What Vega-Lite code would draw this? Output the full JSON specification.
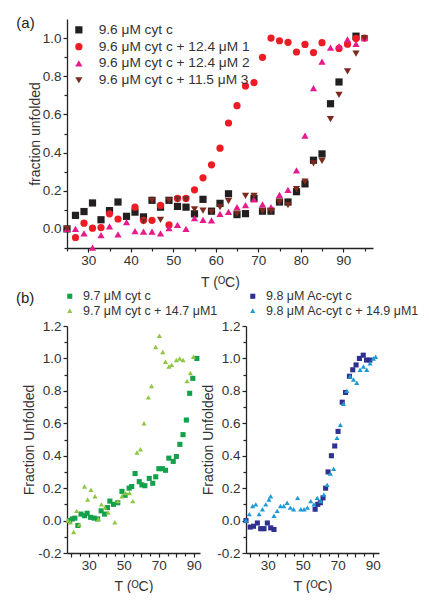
{
  "$schema": "https://vega.github.io/schema/vega-lite/v6.json",
  "padding": {"left": 16, "top": 16, "right": 0, "bottom": 0},
  "config": {
    "view": {"stroke": null},
    "font": "Liberation Sans",
    "axis": {
      "grid": false, "domainColor": "#222", "domainWidth": 1.3, "tickColor": "#222", "tickWidth": 1.2,
      "labelFont": "Liberation Sans", "labelFontSize": 13.5, "labelColor": "#333", "labelPadding": 2,
      "titleFont": "Liberation Sans", "titleFontSize": 14, "titleFontWeight": "normal", "titleColor": "#333", "titlePadding": 1
    },
    "legend": {"labelFont": "Liberation Sans", "labelColor": "#333", "padding": 0, "labelLimit": 400},
    "title": {"font": "Liberation Sans", "fontSize": 15, "fontWeight": "normal", "color": "#222"}
  },
  "datasets": {
    "top": [
      {"T":25,"f":0.0,"s":"9.6 μM cyt c"},{"T":27,"f":0.071,"s":"9.6 μM cyt c"},{"T":29,"f":0.091,"s":"9.6 μM cyt c"},{"T":31,"f":0.136,"s":"9.6 μM cyt c"},{"T":33,"f":0.048,"s":"9.6 μM cyt c"},{"T":35,"f":0.096,"s":"9.6 μM cyt c"},{"T":37,"f":0.141,"s":"9.6 μM cyt c"},{"T":39,"f":0.066,"s":"9.6 μM cyt c"},{"T":41,"f":0.088,"s":"9.6 μM cyt c"},{"T":43,"f":0.063,"s":"9.6 μM cyt c"},{"T":45,"f":0.15,"s":"9.6 μM cyt c"},{"T":47,"f":0.114,"s":"9.6 μM cyt c"},{"T":49,"f":0.15,"s":"9.6 μM cyt c"},{"T":51,"f":0.118,"s":"9.6 μM cyt c"},{"T":53,"f":0.114,"s":"9.6 μM cyt c"},{"T":55,"f":0.079,"s":"9.6 μM cyt c"},{"T":57,"f":0.155,"s":"9.6 μM cyt c"},{"T":59,"f":0.093,"s":"9.6 μM cyt c"},{"T":61,"f":0.134,"s":"9.6 μM cyt c"},{"T":63,"f":0.184,"s":"9.6 μM cyt c"},{"T":65,"f":0.075,"s":"9.6 μM cyt c"},{"T":67,"f":0.08,"s":"9.6 μM cyt c"},{"T":69,"f":0.16,"s":"9.6 μM cyt c"},{"T":71,"f":0.093,"s":"9.6 μM cyt c"},{"T":73,"f":0.093,"s":"9.6 μM cyt c"},{"T":75,"f":0.141,"s":"9.6 μM cyt c"},{"T":77,"f":0.141,"s":"9.6 μM cyt c"},{"T":79,"f":0.195,"s":"9.6 μM cyt c"},{"T":81,"f":0.236,"s":"9.6 μM cyt c"},{"T":83,"f":0.36,"s":"9.6 μM cyt c"},{"T":85,"f":0.393,"s":"9.6 μM cyt c"},{"T":87,"f":0.656,"s":"9.6 μM cyt c"},{"T":89,"f":0.77,"s":"9.6 μM cyt c"},{"T":93,"f":1.01,"s":"9.6 μM cyt c"},
      {"T":27,"f":-0.045,"s":"9.6 μM cyt c + 12.4 μM 1"},{"T":29,"f":0.03,"s":"9.6 μM cyt c + 12.4 μM 1"},{"T":31,"f":0.004,"s":"9.6 μM cyt c + 12.4 μM 1"},{"T":33,"f":0.007,"s":"9.6 μM cyt c + 12.4 μM 1"},{"T":35,"f":0.079,"s":"9.6 μM cyt c + 12.4 μM 1"},{"T":37,"f":0.052,"s":"9.6 μM cyt c + 12.4 μM 1"},{"T":41,"f":0.114,"s":"9.6 μM cyt c + 12.4 μM 1"},{"T":43,"f":0.045,"s":"9.6 μM cyt c + 12.4 μM 1"},{"T":45,"f":0.045,"s":"9.6 μM cyt c + 12.4 μM 1"},{"T":47,"f":0.123,"s":"9.6 μM cyt c + 12.4 μM 1"},{"T":49,"f":0.021,"s":"9.6 μM cyt c + 12.4 μM 1"},{"T":51,"f":0.16,"s":"9.6 μM cyt c + 12.4 μM 1"},{"T":53,"f":0.16,"s":"9.6 μM cyt c + 12.4 μM 1"},{"T":55,"f":0.205,"s":"9.6 μM cyt c + 12.4 μM 1"},{"T":57,"f":0.268,"s":"9.6 μM cyt c + 12.4 μM 1"},{"T":59,"f":0.336,"s":"9.6 μM cyt c + 12.4 μM 1"},{"T":61,"f":0.423,"s":"9.6 μM cyt c + 12.4 μM 1"},{"T":63,"f":0.555,"s":"9.6 μM cyt c + 12.4 μM 1"},{"T":65,"f":0.646,"s":"9.6 μM cyt c + 12.4 μM 1"},{"T":67,"f":0.749,"s":"9.6 μM cyt c + 12.4 μM 1"},{"T":69,"f":0.767,"s":"9.6 μM cyt c + 12.4 μM 1"},{"T":71,"f":0.899,"s":"9.6 μM cyt c + 12.4 μM 1"},{"T":73,"f":1.0,"s":"9.6 μM cyt c + 12.4 μM 1"},{"T":75,"f":0.986,"s":"9.6 μM cyt c + 12.4 μM 1"},{"T":77,"f":0.978,"s":"9.6 μM cyt c + 12.4 μM 1"},{"T":79,"f":0.927,"s":"9.6 μM cyt c + 12.4 μM 1"},{"T":81,"f":0.967,"s":"9.6 μM cyt c + 12.4 μM 1"},{"T":83,"f":0.924,"s":"9.6 μM cyt c + 12.4 μM 1"},{"T":85,"f":0.976,"s":"9.6 μM cyt c + 12.4 μM 1"},{"T":89,"f":0.946,"s":"9.6 μM cyt c + 12.4 μM 1"},{"T":91,"f":0.968,"s":"9.6 μM cyt c + 12.4 μM 1"},{"T":93,"f":0.998,"s":"9.6 μM cyt c + 12.4 μM 1"},{"T":95,"f":1.0,"s":"9.6 μM cyt c + 12.4 μM 1"},
      {"T":25,"f":0.0,"s":"9.6 μM cyt c + 12.4 μM 2"},{"T":27,"f":0.0,"s":"9.6 μM cyt c + 12.4 μM 2"},{"T":29,"f":-0.023,"s":"9.6 μM cyt c + 12.4 μM 2"},{"T":31,"f":-0.098,"s":"9.6 μM cyt c + 12.4 μM 2"},{"T":33,"f":-0.032,"s":"9.6 μM cyt c + 12.4 μM 2"},{"T":35,"f":0.013,"s":"9.6 μM cyt c + 12.4 μM 2"},{"T":37,"f":-0.029,"s":"9.6 μM cyt c + 12.4 μM 2"},{"T":39,"f":0.036,"s":"9.6 μM cyt c + 12.4 μM 2"},{"T":41,"f":-0.011,"s":"9.6 μM cyt c + 12.4 μM 2"},{"T":43,"f":-0.014,"s":"9.6 μM cyt c + 12.4 μM 2"},{"T":45,"f":-0.014,"s":"9.6 μM cyt c + 12.4 μM 2"},{"T":47,"f":-0.023,"s":"9.6 μM cyt c + 12.4 μM 2"},{"T":49,"f":0.004,"s":"9.6 μM cyt c + 12.4 μM 2"},{"T":51,"f":0.021,"s":"9.6 μM cyt c + 12.4 μM 2"},{"T":53,"f":0.0,"s":"9.6 μM cyt c + 12.4 μM 2"},{"T":55,"f":0.057,"s":"9.6 μM cyt c + 12.4 μM 2"},{"T":57,"f":0.048,"s":"9.6 μM cyt c + 12.4 μM 2"},{"T":59,"f":0.045,"s":"9.6 μM cyt c + 12.4 μM 2"},{"T":61,"f":0.079,"s":"9.6 μM cyt c + 12.4 μM 2"},{"T":63,"f":0.089,"s":"9.6 μM cyt c + 12.4 μM 2"},{"T":65,"f":0.114,"s":"9.6 μM cyt c + 12.4 μM 2"},{"T":67,"f":0.125,"s":"9.6 μM cyt c + 12.4 μM 2"},{"T":69,"f":0.155,"s":"9.6 μM cyt c + 12.4 μM 2"},{"T":71,"f":0.129,"s":"9.6 μM cyt c + 12.4 μM 2"},{"T":73,"f":0.114,"s":"9.6 μM cyt c + 12.4 μM 2"},{"T":75,"f":0.179,"s":"9.6 μM cyt c + 12.4 μM 2"},{"T":77,"f":0.204,"s":"9.6 μM cyt c + 12.4 μM 2"},{"T":79,"f":0.307,"s":"9.6 μM cyt c + 12.4 μM 2"},{"T":81,"f":0.489,"s":"9.6 μM cyt c + 12.4 μM 2"},{"T":83,"f":0.738,"s":"9.6 μM cyt c + 12.4 μM 2"},{"T":85,"f":0.876,"s":"9.6 μM cyt c + 12.4 μM 2"},{"T":87,"f":0.95,"s":"9.6 μM cyt c + 12.4 μM 2"},{"T":89,"f":0.958,"s":"9.6 μM cyt c + 12.4 μM 2"},{"T":91,"f":0.993,"s":"9.6 μM cyt c + 12.4 μM 2"},{"T":93,"f":0.97,"s":"9.6 μM cyt c + 12.4 μM 2"},{"T":95,"f":1.0,"s":"9.6 μM cyt c + 12.4 μM 2"},
      {"T":25,"f":0.0,"s":"9.6 μM cyt c + 11.5 μM 3"},{"T":43,"f":0.039,"s":"9.6 μM cyt c + 11.5 μM 3"},{"T":45,"f":0.15,"s":"9.6 μM cyt c + 11.5 μM 3"},{"T":47,"f":0.048,"s":"9.6 μM cyt c + 11.5 μM 3"},{"T":49,"f":0.15,"s":"9.6 μM cyt c + 11.5 μM 3"},{"T":51,"f":0.155,"s":"9.6 μM cyt c + 11.5 μM 3"},{"T":53,"f":0.155,"s":"9.6 μM cyt c + 11.5 μM 3"},{"T":55,"f":0.102,"s":"9.6 μM cyt c + 11.5 μM 3"},{"T":57,"f":0.096,"s":"9.6 μM cyt c + 11.5 μM 3"},{"T":59,"f":0.089,"s":"9.6 μM cyt c + 11.5 μM 3"},{"T":61,"f":0.114,"s":"9.6 μM cyt c + 11.5 μM 3"},{"T":63,"f":0.146,"s":"9.6 μM cyt c + 11.5 μM 3"},{"T":65,"f":0.08,"s":"9.6 μM cyt c + 11.5 μM 3"},{"T":67,"f":0.173,"s":"9.6 μM cyt c + 11.5 μM 3"},{"T":69,"f":0.173,"s":"9.6 μM cyt c + 11.5 μM 3"},{"T":71,"f":0.093,"s":"9.6 μM cyt c + 11.5 μM 3"},{"T":73,"f":0.093,"s":"9.6 μM cyt c + 11.5 μM 3"},{"T":75,"f":0.141,"s":"9.6 μM cyt c + 11.5 μM 3"},{"T":77,"f":0.125,"s":"9.6 μM cyt c + 11.5 μM 3"},{"T":79,"f":0.209,"s":"9.6 μM cyt c + 11.5 μM 3"},{"T":81,"f":0.248,"s":"9.6 μM cyt c + 11.5 μM 3"},{"T":83,"f":0.343,"s":"9.6 μM cyt c + 11.5 μM 3"},{"T":85,"f":0.357,"s":"9.6 μM cyt c + 11.5 μM 3"},{"T":87,"f":0.575,"s":"9.6 μM cyt c + 11.5 μM 3"},{"T":89,"f":0.703,"s":"9.6 μM cyt c + 11.5 μM 3"},{"T":91,"f":0.826,"s":"9.6 μM cyt c + 11.5 μM 3"},{"T":93,"f":0.919,"s":"9.6 μM cyt c + 11.5 μM 3"},{"T":95,"f":1.0,"s":"9.6 μM cyt c + 11.5 μM 3"}
    ],
    "bl": [
      {"T":19,"f":0.0,"s":"9.7 μM cyt c"},{"T":20.5,"f":0.01,"s":"9.7 μM cyt c"},{"T":22,"f":0.015,"s":"9.7 μM cyt c"},{"T":23.7,"f":-0.03,"s":"9.7 μM cyt c"},{"T":25.5,"f":0.04,"s":"9.7 μM cyt c"},{"T":27.5,"f":0.03,"s":"9.7 μM cyt c"},{"T":29,"f":0.045,"s":"9.7 μM cyt c"},{"T":31,"f":0.02,"s":"9.7 μM cyt c"},{"T":33,"f":0.015,"s":"9.7 μM cyt c"},{"T":35,"f":0.01,"s":"9.7 μM cyt c"},{"T":37,"f":0.06,"s":"9.7 μM cyt c"},{"T":39,"f":0.04,"s":"9.7 μM cyt c"},{"T":40.6,"f":0.08,"s":"9.7 μM cyt c"},{"T":42,"f":0.12,"s":"9.7 μM cyt c"},{"T":44,"f":0.1,"s":"9.7 μM cyt c"},{"T":46.5,"f":0.11,"s":"9.7 μM cyt c"},{"T":48.9,"f":0.18,"s":"9.7 μM cyt c"},{"T":50.7,"f":0.156,"s":"9.7 μM cyt c"},{"T":53,"f":0.2,"s":"9.7 μM cyt c"},{"T":54.5,"f":0.21,"s":"9.7 μM cyt c"},{"T":56.4,"f":0.29,"s":"9.7 μM cyt c"},{"T":58.8,"f":0.24,"s":"9.7 μM cyt c"},{"T":60.3,"f":0.22,"s":"9.7 μM cyt c"},{"T":62,"f":0.215,"s":"9.7 μM cyt c"},{"T":64.5,"f":0.26,"s":"9.7 μM cyt c"},{"T":66.5,"f":0.23,"s":"9.7 μM cyt c"},{"T":68.2,"f":0.27,"s":"9.7 μM cyt c"},{"T":70,"f":0.32,"s":"9.7 μM cyt c"},{"T":72,"f":0.32,"s":"9.7 μM cyt c"},{"T":73.8,"f":0.31,"s":"9.7 μM cyt c"},{"T":75.7,"f":0.385,"s":"9.7 μM cyt c"},{"T":78.2,"f":0.365,"s":"9.7 μM cyt c"},{"T":80,"f":0.395,"s":"9.7 μM cyt c"},{"T":82,"f":0.47,"s":"9.7 μM cyt c"},{"T":83.8,"f":0.53,"s":"9.7 μM cyt c"},{"T":85.7,"f":0.62,"s":"9.7 μM cyt c"},{"T":87.6,"f":0.785,"s":"9.7 μM cyt c"},{"T":89.4,"f":0.877,"s":"9.7 μM cyt c"},{"T":91.7,"f":1.0,"s":"9.7 μM cyt c"},
      {"T":18,"f":0.0,"s":"9.7 μM cyt c + 14.7 μM1"},{"T":19.4,"f":-0.01,"s":"9.7 μM cyt c + 14.7 μM1"},{"T":21.3,"f":-0.07,"s":"9.7 μM cyt c + 14.7 μM1"},{"T":23,"f":0.06,"s":"9.7 μM cyt c + 14.7 μM1"},{"T":24.5,"f":-0.025,"s":"9.7 μM cyt c + 14.7 μM1"},{"T":27.5,"f":0.21,"s":"9.7 μM cyt c + 14.7 μM1"},{"T":29.3,"f":0.13,"s":"9.7 μM cyt c + 14.7 μM1"},{"T":31.2,"f":0.19,"s":"9.7 μM cyt c + 14.7 μM1"},{"T":33.5,"f":0.15,"s":"9.7 μM cyt c + 14.7 μM1"},{"T":35.4,"f":0.01,"s":"9.7 μM cyt c + 14.7 μM1"},{"T":37.2,"f":0.1,"s":"9.7 μM cyt c + 14.7 μM1"},{"T":39.1,"f":0.08,"s":"9.7 μM cyt c + 14.7 μM1"},{"T":41,"f":0.05,"s":"9.7 μM cyt c + 14.7 μM1"},{"T":44.8,"f":-0.01,"s":"9.7 μM cyt c + 14.7 μM1"},{"T":46.6,"f":0.12,"s":"9.7 μM cyt c + 14.7 μM1"},{"T":48.9,"f":0.15,"s":"9.7 μM cyt c + 14.7 μM1"},{"T":50.7,"f":0.17,"s":"9.7 μM cyt c + 14.7 μM1"},{"T":53.2,"f":0.17,"s":"9.7 μM cyt c + 14.7 μM1"},{"T":55.1,"f":0.12,"s":"9.7 μM cyt c + 14.7 μM1"},{"T":57.5,"f":0.42,"s":"9.7 μM cyt c + 14.7 μM1"},{"T":59.5,"f":0.44,"s":"9.7 μM cyt c + 14.7 μM1"},{"T":61.5,"f":0.6,"s":"9.7 μM cyt c + 14.7 μM1"},{"T":64,"f":0.76,"s":"9.7 μM cyt c + 14.7 μM1"},{"T":65.8,"f":0.83,"s":"9.7 μM cyt c + 14.7 μM1"},{"T":68.2,"f":1.07,"s":"9.7 μM cyt c + 14.7 μM1"},{"T":70.3,"f":1.14,"s":"9.7 μM cyt c + 14.7 μM1"},{"T":72.2,"f":1.04,"s":"9.7 μM cyt c + 14.7 μM1"},{"T":73.8,"f":0.98,"s":"9.7 μM cyt c + 14.7 μM1"},{"T":75.7,"f":0.95,"s":"9.7 μM cyt c + 14.7 μM1"},{"T":77.3,"f":0.96,"s":"9.7 μM cyt c + 14.7 μM1"},{"T":80,"f":0.99,"s":"9.7 μM cyt c + 14.7 μM1"},{"T":81.9,"f":1.0,"s":"9.7 μM cyt c + 14.7 μM1"},{"T":83.8,"f":0.99,"s":"9.7 μM cyt c + 14.7 μM1"},{"T":86.1,"f":0.86,"s":"9.7 μM cyt c + 14.7 μM1"},{"T":88,"f":0.91,"s":"9.7 μM cyt c + 14.7 μM1"},{"T":89.8,"f":1.01,"s":"9.7 μM cyt c + 14.7 μM1"}
    ],
    "br": [
      {"T":17.5,"f":0.0,"s":"9.8 μM Ac-cyt c"},{"T":19.9,"f":-0.04,"s":"9.8 μM Ac-cyt c"},{"T":21.8,"f":-0.035,"s":"9.8 μM Ac-cyt c"},{"T":24,"f":-0.015,"s":"9.8 μM Ac-cyt c"},{"T":25.9,"f":-0.05,"s":"9.8 μM Ac-cyt c"},{"T":27.8,"f":-0.05,"s":"9.8 μM Ac-cyt c"},{"T":29.7,"f":-0.015,"s":"9.8 μM Ac-cyt c"},{"T":31.6,"f":-0.045,"s":"9.8 μM Ac-cyt c"},{"T":33.5,"f":-0.055,"s":"9.8 μM Ac-cyt c"},{"T":57,"f":0.07,"s":"9.8 μM Ac-cyt c"},{"T":58.5,"f":0.1,"s":"9.8 μM Ac-cyt c"},{"T":60,"f":0.11,"s":"9.8 μM Ac-cyt c"},{"T":61.5,"f":0.14,"s":"9.8 μM Ac-cyt c"},{"T":63,"f":0.2,"s":"9.8 μM Ac-cyt c"},{"T":64.4,"f":0.3,"s":"9.8 μM Ac-cyt c"},{"T":66.3,"f":0.4,"s":"9.8 μM Ac-cyt c"},{"T":68.2,"f":0.46,"s":"9.8 μM Ac-cyt c"},{"T":70.1,"f":0.55,"s":"9.8 μM Ac-cyt c"},{"T":72.5,"f":0.73,"s":"9.8 μM Ac-cyt c"},{"T":74.4,"f":0.79,"s":"9.8 μM Ac-cyt c"},{"T":76.6,"f":0.89,"s":"9.8 μM Ac-cyt c"},{"T":78.5,"f":0.93,"s":"9.8 μM Ac-cyt c"},{"T":80.4,"f":0.96,"s":"9.8 μM Ac-cyt c"},{"T":82.3,"f":1.0,"s":"9.8 μM Ac-cyt c"},{"T":84.5,"f":1.02,"s":"9.8 μM Ac-cyt c"},{"T":86.4,"f":0.99,"s":"9.8 μM Ac-cyt c"},{"T":88.3,"f":0.99,"s":"9.8 μM Ac-cyt c"},
      {"T":17.5,"f":0.0,"s":"9.8 μM Ac-cyt c + 14.9 μM1"},{"T":19.4,"f":0.04,"s":"9.8 μM Ac-cyt c + 14.9 μM1"},{"T":21.3,"f":0.09,"s":"9.8 μM Ac-cyt c + 14.9 μM1"},{"T":23.1,"f":0.1,"s":"9.8 μM Ac-cyt c + 14.9 μM1"},{"T":25,"f":0.04,"s":"9.8 μM Ac-cyt c + 14.9 μM1"},{"T":26.9,"f":0.07,"s":"9.8 μM Ac-cyt c + 14.9 μM1"},{"T":28.8,"f":0.1,"s":"9.8 μM Ac-cyt c + 14.9 μM1"},{"T":30.6,"f":0.13,"s":"9.8 μM Ac-cyt c + 14.9 μM1"},{"T":31.6,"f":0.15,"s":"9.8 μM Ac-cyt c + 14.9 μM1"},{"T":33.5,"f":0.03,"s":"9.8 μM Ac-cyt c + 14.9 μM1"},{"T":35.3,"f":0.06,"s":"9.8 μM Ac-cyt c + 14.9 μM1"},{"T":37.2,"f":0.09,"s":"9.8 μM Ac-cyt c + 14.9 μM1"},{"T":39.1,"f":0.09,"s":"9.8 μM Ac-cyt c + 14.9 μM1"},{"T":41,"f":0.11,"s":"9.8 μM Ac-cyt c + 14.9 μM1"},{"T":42.8,"f":0.08,"s":"9.8 μM Ac-cyt c + 14.9 μM1"},{"T":44.7,"f":0.07,"s":"9.8 μM Ac-cyt c + 14.9 μM1"},{"T":47,"f":0.14,"s":"9.8 μM Ac-cyt c + 14.9 μM1"},{"T":48.8,"f":0.07,"s":"9.8 μM Ac-cyt c + 14.9 μM1"},{"T":50.7,"f":0.07,"s":"9.8 μM Ac-cyt c + 14.9 μM1"},{"T":52.6,"f":0.08,"s":"9.8 μM Ac-cyt c + 14.9 μM1"},{"T":54.5,"f":0.12,"s":"9.8 μM Ac-cyt c + 14.9 μM1"},{"T":56.3,"f":0.1,"s":"9.8 μM Ac-cyt c + 14.9 μM1"},{"T":58.2,"f":0.14,"s":"9.8 μM Ac-cyt c + 14.9 μM1"},{"T":60.1,"f":0.12,"s":"9.8 μM Ac-cyt c + 14.9 μM1"},{"T":62,"f":0.16,"s":"9.8 μM Ac-cyt c + 14.9 μM1"},{"T":63.9,"f":0.22,"s":"9.8 μM Ac-cyt c + 14.9 μM1"},{"T":65.7,"f":0.29,"s":"9.8 μM Ac-cyt c + 14.9 μM1"},{"T":67.6,"f":0.32,"s":"9.8 μM Ac-cyt c + 14.9 μM1"},{"T":69.5,"f":0.51,"s":"9.8 μM Ac-cyt c + 14.9 μM1"},{"T":71.4,"f":0.59,"s":"9.8 μM Ac-cyt c + 14.9 μM1"},{"T":73.2,"f":0.72,"s":"9.8 μM Ac-cyt c + 14.9 μM1"},{"T":75.1,"f":0.8,"s":"9.8 μM Ac-cyt c + 14.9 μM1"},{"T":77,"f":0.89,"s":"9.8 μM Ac-cyt c + 14.9 μM1"},{"T":78.9,"f":0.87,"s":"9.8 μM Ac-cyt c + 14.9 μM1"},{"T":80.8,"f":0.85,"s":"9.8 μM Ac-cyt c + 14.9 μM1"},{"T":82.7,"f":0.93,"s":"9.8 μM Ac-cyt c + 14.9 μM1"},{"T":84.6,"f":0.95,"s":"9.8 μM Ac-cyt c + 14.9 μM1"},{"T":86.5,"f":0.93,"s":"9.8 μM Ac-cyt c + 14.9 μM1"},{"T":88.4,"f":0.97,"s":"9.8 μM Ac-cyt c + 14.9 μM1"},{"T":90.3,"f":1.0,"s":"9.8 μM Ac-cyt c + 14.9 μM1"},{"T":91.6,"f":1.01,"s":"9.8 μM Ac-cyt c + 14.9 μM1"}
    ]
  },
  "resolve": {"scale": {"color": "independent", "shape": "independent"}, "legend": {"color": "independent", "shape": "independent"}},
  "bounds": "flush",
  "spacing": 78,
  "vconcat": [
    {
      "title": {"text": "(a)", "anchor": "start", "frame": "group", "offset": -24, "dx": -50.7, "dy": -12},
      "width": 306, "height": 229,
      "data": {"name": "top"},
      "mark": {"type": "point", "filled": true, "opacity": 1, "size": 52},
      "encoding": {
        "x": {"field": "T", "type": "quantitative", "scale": {"domain": [25, 97], "nice": false, "zero": false},
          "axis": {"title": "T (ᴼC)", "labelPadding": 1, "titlePadding": 9, "values": [25,30,35,40,45,50,55,60,65,70,75,80,85,90,95], "labelExpr": "datum.value % 10 === 0 ? datum.label : ''", "tickSize": {"condition": {"test": "datum.value % 10 === 0", "value": 4}, "value": 3}}},
        "y": {"field": "f", "type": "quantitative", "scale": {"domain": [-0.1, 1.1], "nice": false, "zero": false},
          "axis": {"title": "fraction unfolded", "titlePadding": 0, "values": [-0.1,0,0.1,0.2,0.3,0.4,0.5,0.6,0.7,0.8,0.9,1.0], "labelExpr": "abs(round(datum.value*10)) % 2 === 0 ? format(datum.value, '.1f') : ''", "tickSize": {"condition": {"test": "abs(round(datum.value*10)) % 2 === 0", "value": 4}, "value": 3}}},
        "color": {"field": "s", "type": "nominal",
          "scale": {"domain": ["9.6 μM cyt c", "9.6 μM cyt c + 12.4 μM 1", "9.6 μM cyt c + 12.4 μM 2", "9.6 μM cyt c + 11.5 μM 3"], "range": ["#231f20", "#ed1c24", "#e8198b", "#7b2a1f"]},
          "legend": {"title": null, "orient": "none", "legendX": 5, "legendY": 4, "labelFontSize": 13.7, "symbolSize": 52, "labelOffset": 13, "rowPadding": 1.8, "symbolStrokeWidth": 0}},
        "shape": {"field": "s", "type": "nominal",
          "scale": {"domain": ["9.6 μM cyt c", "9.6 μM cyt c + 12.4 μM 1", "9.6 μM cyt c + 12.4 μM 2", "9.6 μM cyt c + 11.5 μM 3"], "range": ["square", "circle", "triangle-up", "triangle-down"]}}
      }
    },
    {
      "title": {"text": "(b)", "anchor": "start", "frame": "group", "offset": -16, "dx": -51},
      "bounds": "flush",
      "spacing": 46,
      "resolve": {"scale": {"color": "independent", "shape": "independent", "x": "independent", "y": "independent"}, "legend": {"color": "independent", "shape": "independent"}},
      "hconcat": [
        {
          "width": 133, "height": 227,
          "data": {"name": "bl"},
          "mark": {"type": "point", "filled": true, "opacity": 1, "size": 26},
          "encoding": {
            "x": {"field": "T", "type": "quantitative", "scale": {"domain": [17.5, 93.5], "nice": false, "zero": false},
              "axis": {"title": "T (ᴼC)", "labelPadding": 1.5, "titlePadding": 7, "values": [20,25,30,35,40,45,50,55,60,65,70,75,80,85,90], "labelExpr": "datum.value % 20 === 10 ? datum.label : ''", "tickSize": {"condition": {"test": "datum.value % 10 === 0", "value": 4}, "value": 3}}},
            "y": {"field": "f", "type": "quantitative", "scale": {"domain": [-0.2, 1.2], "nice": false, "zero": false},
              "axis": {"title": "Fraction Unfolded", "values": [-0.2,-0.1,0,0.1,0.2,0.3,0.4,0.5,0.6,0.7,0.8,0.9,1.0,1.1,1.2], "labelExpr": "abs(round(datum.value*10)) % 2 === 0 ? (datum.value < 0 ? '-' + format(-datum.value, '.1f') : format(datum.value, '.1f')) : ''", "tickSize": {"condition": {"test": "abs(round(datum.value*10)) % 2 === 0", "value": 4}, "value": 3}}},
            "color": {"field": "s", "type": "nominal",
              "scale": {"domain": ["9.7 μM cyt c", "9.7 μM cyt c + 14.7 μM1"], "range": ["#12a14b", "#8dc63f"]},
              "legend": {"title": null, "orient": "none", "legendX": -3.5, "legendY": -36, "labelFontSize": 12.5, "symbolSize": 26, "labelOffset": 7, "rowPadding": 1.5, "symbolStrokeWidth": 0}},
            "shape": {"field": "s", "type": "nominal",
              "scale": {"domain": ["9.7 μM cyt c", "9.7 μM cyt c + 14.7 μM1"], "range": ["square", "triangle-up"]}}
          }
        },
        {
          "width": 133, "height": 227,
          "data": {"name": "br"},
          "mark": {"type": "point", "filled": true, "opacity": 1, "size": 26},
          "encoding": {
            "x": {"field": "T", "type": "quantitative", "scale": {"domain": [17.5, 93.5], "nice": false, "zero": false},
              "axis": {"title": "T (ᴼC)", "labelPadding": 1.5, "titlePadding": 7, "values": [20,25,30,35,40,45,50,55,60,65,70,75,80,85,90], "labelExpr": "datum.value % 20 === 10 ? datum.label : ''", "tickSize": {"condition": {"test": "datum.value % 10 === 0", "value": 4}, "value": 3}}},
            "y": {"field": "f", "type": "quantitative", "scale": {"domain": [-0.2, 1.2], "nice": false, "zero": false},
              "axis": {"title": "Fraction Unfolded", "values": [-0.2,-0.1,0,0.1,0.2,0.3,0.4,0.5,0.6,0.7,0.8,0.9,1.0,1.1,1.2], "labelExpr": "abs(round(datum.value*10)) % 2 === 0 ? (datum.value < 0 ? '-' + format(-datum.value, '.1f') : format(datum.value, '.1f')) : ''", "tickSize": {"condition": {"test": "abs(round(datum.value*10)) % 2 === 0", "value": 4}, "value": 3}}},
            "color": {"field": "s", "type": "nominal",
              "scale": {"domain": ["9.8 μM Ac-cyt c", "9.8 μM Ac-cyt c + 14.9 μM1"], "range": ["#2e3192", "#1c9ad6"]},
              "legend": {"title": null, "orient": "none", "legendX": 0.5, "legendY": -36, "labelFontSize": 12.5, "symbolSize": 26, "labelOffset": 7, "rowPadding": 1.5, "symbolStrokeWidth": 0}},
            "shape": {"field": "s", "type": "nominal",
              "scale": {"domain": ["9.8 μM Ac-cyt c", "9.8 μM Ac-cyt c + 14.9 μM1"], "range": ["square", "triangle-up"]}}
          }
        }
      ]
    }
  ]
}
